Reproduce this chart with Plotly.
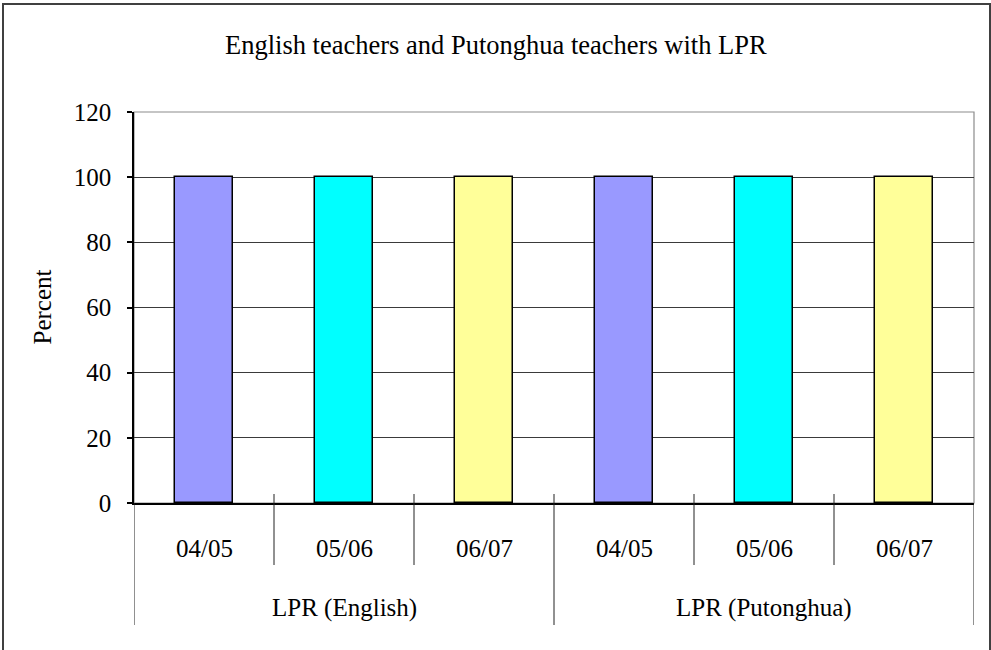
import plotly.graph_objects as go

# ---- data ----
groups = ["LPR (English)", "LPR (Putonghua)"]
years = ["04/05", "05/06", "06/07"]
values_english = [100, 100, 100]
values_putonghua = [100, 100, 100]
year_colors = ["#9999FF", "#00FFFF", "#FFFF99"]
y_ticks = [0, 20, 40, 60, 80, 100, 120]
title_text = "English teachers and Putonghua teachers with LPR"
y_title = "Percent"

# ---- layout geometry (pixels) ----
W, H = 991, 650
L, R, T, B = 134, 974, 112, 503
FONT = "Liberation Serif, Times New Roman, serif"


def px_x(p):
    return (p - L) / (R - L)


def px_y(p):
    return (B - p) / (B - T)


values = values_english + values_putonghua
x_pos = list(range(len(values)))
colors = [year_colors[i % len(years)] for i in range(len(values))]

fig = go.Figure()
fig.add_trace(go.Bar(
    x=x_pos, y=values, width=0.41,
    marker=dict(color=colors, line=dict(color="#000000", width=1.5)),
    hoverinfo="skip",
))

shapes = []
# plot area border (gray top/right)
shapes.append(dict(type="rect", xref="paper", yref="paper", x0=0, x1=1, y0=0, y1=1,
                   line=dict(color="#8c8c8c", width=1.2), layer="below"))
# outer chart border (bottom edge lies below the visible page)
shapes.append(dict(type="rect", xref="paper", yref="paper",
                   x0=px_x(3), x1=px_x(990), y0=px_y(660), y1=px_y(4),
                   line=dict(color="#404040", width=2)))

n_per = len(years)
n = len(values)
# inner separators
for g in range(len(groups)):
    for k in range(1, n_per):
        xb = g * n_per + k - 0.5
        shapes.append(dict(type="line", xref="x", yref="paper", x0=xb, x1=xb,
                           y0=px_y(494), y1=px_y(565), line=dict(color="#222222", width=1)))
# group separators
for g in range(len(groups) + 1):
    xb = g * n_per - 0.5
    y0 = px_y(494) if 0 < g < len(groups) else 0
    shapes.append(dict(type="line", xref="x", yref="paper", x0=xb, x1=xb,
                       y0=y0, y1=px_y(625), line=dict(color="#222222", width=1)))

annotations = []
for i in range(n):
    annotations.append(dict(x=i, y=px_y(548), xref="x", yref="paper", text=years[i % n_per],
                            showarrow=False, xanchor="center", yanchor="middle",
                            font=dict(family=FONT, size=25, color="#000000")))
for g, name in enumerate(groups):
    annotations.append(dict(x=g * n_per + (n_per - 1) / 2, y=px_y(608), xref="x", yref="paper",
                            text=name, showarrow=False, xanchor="center", yanchor="middle",
                            font=dict(family=FONT, size=25, color="#000000")))
annotations.append(dict(x=px_x(42), y=0.5, xref="paper", yref="paper", text=y_title,
                        textangle=-90, showarrow=False, xanchor="center", yanchor="middle",
                        font=dict(family=FONT, size=25, color="#000000")))
annotations.append(dict(x=px_x(495.5), y=px_y(45), xref="paper", yref="paper", text=title_text,
                        showarrow=False, xanchor="center", yanchor="middle",
                        font=dict(family=FONT, size=26.5, color="#000000")))

fig.update_layout(
    width=W, height=H,
    margin=dict(l=L, r=W - R, t=T, b=H - B, pad=0),
    paper_bgcolor="white", plot_bgcolor="white",
    showlegend=False,
    bargap=0,
    xaxis=dict(range=[-0.5, n - 0.5], showticklabels=False, showgrid=False, zeroline=False,
               showline=True, linecolor="#000000", linewidth=1.5, ticks="", fixedrange=True),
    yaxis=dict(range=[0, 120], tickvals=y_ticks, ticktext=[str(v) for v in y_ticks],
               showgrid=True, gridcolor="#3a3a3a", gridwidth=1, zeroline=False,
               showline=True, linecolor="#000000", linewidth=1.5,
               ticks="outside", ticklen=5, tickcolor="#000000", tickwidth=1.5,
               ticklabelstandoff=11,
               tickfont=dict(family=FONT, size=25, color="#000000"), fixedrange=True),
    shapes=shapes,
    annotations=annotations,
)

fig.write_html(
    "out.html",
    config={"displayModeBar": False},
    post_script="document.body.style.margin='0';document.body.style.overflow='hidden';",
)
